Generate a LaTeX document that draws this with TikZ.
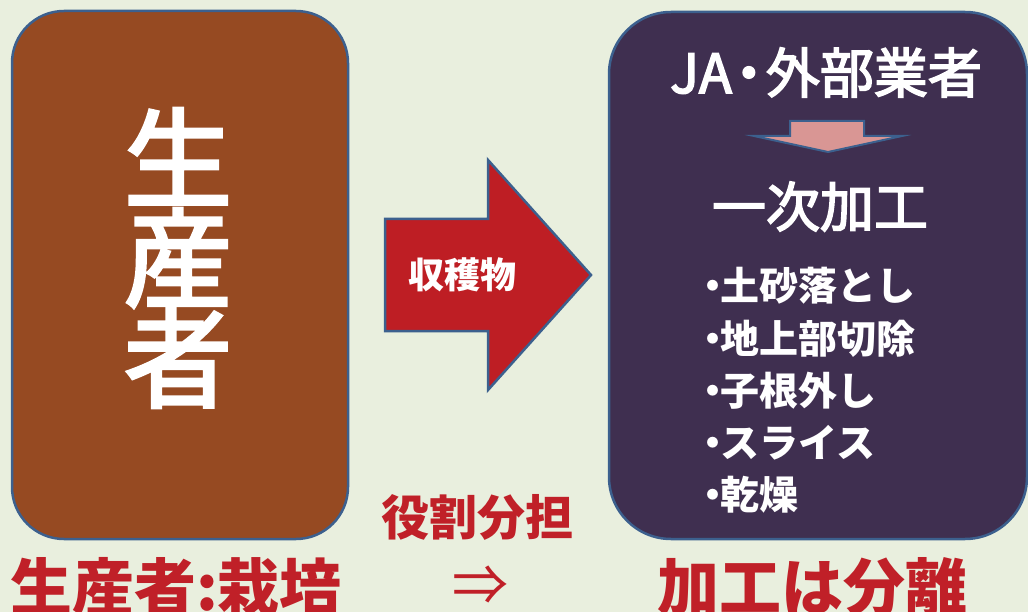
\documentclass[tikz,border=0pt]{standalone}
\usepackage{fontspec}
\newfontfamily\jp{Noto Sans CJK JP}
\newfontfamily\jpm[FakeBold=3]{Noto Sans CJK JP}
\definecolor{bg}{RGB}{233,239,222}
\definecolor{edgeblue}{RGB}{60,96,142}
\definecolor{brownbox}{RGB}{150,74,34}
\definecolor{purplebox}{RGB}{63,47,80}
\definecolor{arrowred}{RGB}{190,30,36}
\definecolor{pinkarrow}{RGB}{217,150,148}
\definecolor{txtred}{RGB}{192,32,40}
\begin{document}
\begin{tikzpicture}[x=1pt,y=-1pt,
  box/.style={draw=edgeblue, line width=2.5pt},
  wtext/.style={text=white, inner sep=0pt},
  rtext/.style={text=txtred, inner sep=0pt},
  item/.style={wtext, anchor=base west, font=\jp\bfseries\fontsize{39}{39}\selectfont}]
\useasboundingbox (0,0) rectangle (1028,612);
\fill[bg] (0,0) rectangle (1028,612);
% left box
\draw[box, fill=brownbox, rounded corners=52pt] (12,11) rectangle (348,539);
\node[wtext, anchor=base, font=\jpm\fontsize{108}{108}\selectfont] (s1) at (178,199) {生};
\node[wtext, anchor=base, font=\jpm\fontsize{108}{108}\selectfont] (s2) at (178,299) {産};
\node[wtext, anchor=base, font=\jpm\fontsize{108}{108}\selectfont] (s3) at (178,399) {者};
% big arrow
\draw[box, fill=arrowred, line join=miter] (385,219) -- (488,219) -- (488,160) -- (591,275) -- (488,390) -- (488,331) -- (385,331) -- cycle;
\node[wtext, anchor=base, font=\jp\bfseries\fontsize{36}{36}\selectfont] (harv) at (462,289) {収穫物};
% right box
\draw[box, fill=purplebox, rounded corners=62pt] (609,12) rectangle (1027,539);
\node[wtext, anchor=base, font=\jpm\fontsize{54}{54}\selectfont] (ja) at (826,93) {JA\kern-10pt・\kern-10pt 外部業者};
\draw[draw=edgeblue, line width=2pt, fill=pinkarrow, line join=miter] (790,121) -- (864,121) -- (864,136) -- (902,136) -- (828,152) -- (754,136) -- (790,136) -- cycle;
\node[wtext, anchor=base, font=\jpm\fontsize{54}{54}\selectfont] (ichiji) at (820,227) {一次加工};
\node[item] (i1) at (693,301) {・\kern-12pt 土砂落とし};
\node[item] (i2) at (693,353) {・\kern-12pt 地上部切除};
\node[item] (i3) at (693,405) {・\kern-12pt 子根外し};
\node[item] (i4) at (693,457) {・\kern-12pt スライス};
\node[item] (i5) at (693,509) {・\kern-12pt 乾燥};
% bottom texts
\node[rtext, anchor=base, font=\jp\bfseries\fontsize{48}{48}\selectfont] (role) at (477,535) {役割分担};
\node[rtext, anchor=base west, font=\jp\bfseries\fontsize{62}{62}\selectfont] (prod) at (10,610) {生産者:栽培};
\node[rtext, anchor=center, font=\jp\fontsize{56}{56}\selectfont] (imp) at (480,586) {⇒};
\node[rtext, anchor=base, font=\jp\bfseries\fontsize{62}{62}\selectfont] (sep) at (812,610) {加工は分離};
\end{tikzpicture}
\end{document}
